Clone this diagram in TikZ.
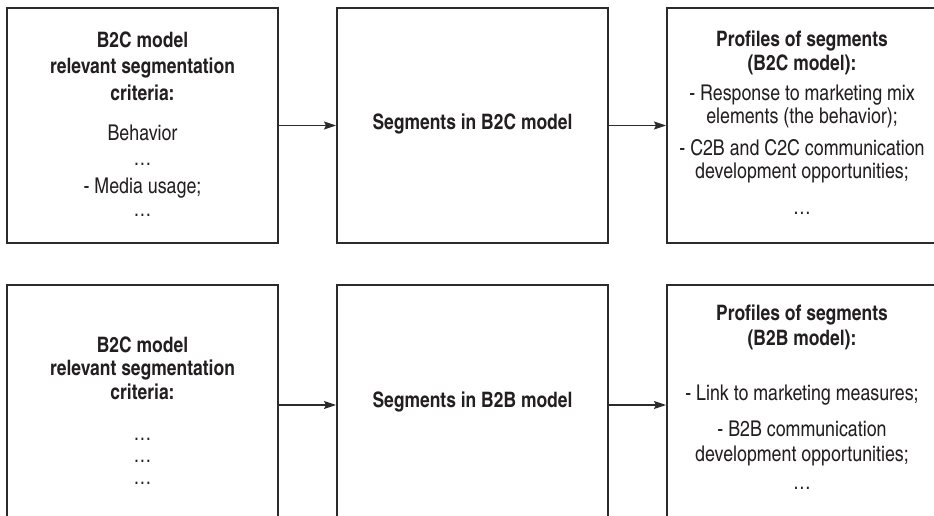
\documentclass[tikz,border=0pt]{standalone}
\usepackage{fontspec}
\setmainfont{texgyreheroscn}[Extension=.otf, UprightFont=*-regular, BoldFont=*-bold, ItalicFont=*-italic, BoldItalicFont=*-bolditalic]
\usetikzlibrary{arrows.meta}
\definecolor{ink}{HTML}{231F20}
\definecolor{edge}{HTML}{2B2B2B}
\tikzset{
  box/.style={draw=edge, line width=2pt, inner sep=0pt},
  bt/.style={font=\fontsize{21.3}{24}\selectfont\bfseries, text=ink, anchor=base, inner sep=0pt},
  rt/.style={font=\fontsize{21.7}{24}\selectfont, text=ink, anchor=base, inner sep=0pt},
  link/.style={draw=edge, line width=1.3pt, -{Stealth[length=12pt,width=8pt,inset=2pt]}}
}
\begin{document}
\begin{tikzpicture}[x=1pt,y=-1pt]
\useasboundingbox (0,0) rectangle (934,516);
\clip (0,0) rectangle (934,516);
% boxes, top row
\node[box, minimum width=271pt, minimum height=235pt] (tl) at (142.5,125.5) {};
\node[box, minimum width=271pt, minimum height=235pt] (tm) at (472.5,125.5) {};
\node[box, minimum width=270pt, minimum height=235pt] (tr) at (802,125.5) {};
% boxes, bottom row
\node[box, minimum width=271pt, minimum height=240pt] (bl) at (142.5,405) {};
\node[box, minimum width=271pt, minimum height=240pt] (bm) at (472.5,405) {};
\node[box, minimum width=270pt, minimum height=240pt] (br) at (802,405) {};
% connectors
\draw[link] (tl.east) -- (tm.west);
\draw[link] (tm.east) -- (tr.west);
\draw[link] (bl.east) -- (bm.west);
\draw[link] (bm.east) -- (br.west);
% top-left text
\node[bt] (tl1) at (142.5,47.5) {B2C model};
\node[bt] (tl2) at (142.5,74) {relevant segmentation};
\node[bt] (tl3) at (142.5,100.5) {criteria:};
\node[rt] (tl4) at (142.5,141) {Behavior};
\node[rt] (tl5) at (142.5,165) {\dots};
\node[rt] (tl6) at (142.5,193) {- Media usage;};
\node[rt] (tl7) at (142.5,216) {\dots};
% top-middle text
\node[bt] (tm1) at (472.5,129.5) {Segments in B2C model};
% top-right text
\node[bt] (tr1) at (802,47) {Profiles of segments};
\node[bt] (tr2) at (802,71) {(B2C model):};
\node[rt] (tr3) at (802,101) {- Response to marketing mix};
\node[rt] (tr4) at (802,124) {elements (the behavior);};
\node[rt] (tr5) at (802,155) {- C2B and C2C communication};
\node[rt] (tr6) at (802,178) {development opportunities;};
\node[rt] (tr7) at (802,214) {\dots};
% bottom-left text
\node[bt] (bl1) at (142.5,352) {B2C model};
\node[bt] (bl2) at (142.5,375.5) {relevant segmentation};
\node[bt] (bl3) at (142.5,399) {criteria:};
\node[rt] (bl4) at (142.5,440) {\dots};
\node[rt] (bl5) at (142.5,462) {\dots};
\node[rt] (bl6) at (142.5,484) {\dots};
% bottom-middle text
\node[bt] (bm1) at (472.5,407) {Segments in B2B model};
% bottom-right text
\node[bt] (br1) at (802,320) {Profiles of segments};
\node[bt] (br2) at (802,345) {(B2B model):};
\node[rt] (br3) at (802,400) {- Link to marketing measures;};
\node[rt] (br4) at (802,436) {- B2B communication};
\node[rt] (br5) at (802,461) {development opportunities;};
\node[rt] (br6) at (802,489) {\dots};
\end{tikzpicture}
\end{document}
